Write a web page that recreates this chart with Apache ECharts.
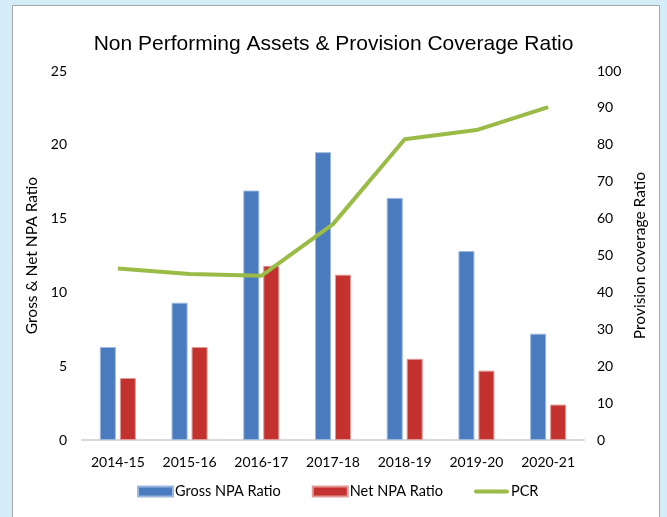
<!DOCTYPE html>
<html>
<head>
<meta charset="utf-8">
<script src="https://cdn.jsdelivr.net/npm/echarts@6/dist/echarts.min.js"></script>
<style>
html,body{margin:0;padding:0;background:#d5ecf9;}
#c{width:667px;height:517px;}
</style>
</head>
<body>
<div id="c"></div>
<script>
const categories = ['2014-15','2015-16','2016-17','2017-18','2018-19','2019-20','2020-21'];
const grossNPA = [6.3, 9.3, 16.9, 19.5, 16.4, 12.8, 7.2];
const netNPA = [4.2, 6.3, 11.8, 11.2, 5.5, 4.7, 2.4];
const pcr = [46.5, 45.0, 44.5, 58.5, 81.5, 84.0, 90.2];

const FONT = 'Lato';
const chart = echarts.init(document.getElementById('c'), null, {renderer:'canvas'});
chart.setOption({
  backgroundColor: '#d5ecf9',
  animation: false,
  graphic: [{
    type: 'rect', z: -10,
    shape: {x: 12.5, y: 5.5, width: 647, height: 530},
    style: {fill: '#ffffff', stroke: '#a6a6a6', lineWidth: 1}
  }],
  title: {
    text: 'Non Performing Assets & Provision Coverage Ratio',
    left: 'center', top: 34, padding: 0,
    textStyle: {fontFamily: 'Liberation Sans', fontSize: 21, fontWeight: 'normal', color: '#000'}
  },
  legend: {
    bottom: 13, left: 132,
    itemWidth: 35, itemHeight: 10, itemGap: 31,
    symbolKeepAspect: true,
    textStyle: {fontFamily: FONT, fontSize: 14.5, color: '#000', padding: [0,0,0,-3]},
    data: [
      {name: 'Gross NPA Ratio', icon: 'rect'},
      {name: 'Net NPA Ratio', icon: 'rect'},
      {name: 'PCR', icon: 'path://M2,0 L38,0 A2,2 0 0 1 38,4.5 L2,4.5 A2,2 0 0 1 2,0 Z'}
    ]
  },
  grid: {left: 82, right: 83, top: 71, bottom: 77},
  xAxis: {
    type: 'category', data: categories,
    axisLine: {lineStyle: {color: '#d9d9d9', width: 2}},
    axisTick: {show: false},
    axisLabel: {fontFamily: FONT, fontSize: 14, color: '#000', margin: 15}
  },
  yAxis: [{
    type: 'value', min: 0, max: 25, interval: 5,
    name: 'Gross & Net NPA Ratio', nameLocation: 'middle', nameGap: 36,
    nameTextStyle: {fontFamily: FONT, fontSize: 15.5, color: '#000'},
    axisLine: {show: false}, axisTick: {show: false}, splitLine: {show: false},
    axisLabel: {fontFamily: FONT, fontSize: 14, color: '#000', margin: 15}
  }, {
    type: 'value', min: 0, max: 100, interval: 10,
    name: 'Provision coverage Ratio', nameLocation: 'middle', nameGap: 48,
    nameTextStyle: {fontFamily: FONT, fontSize: 15.5, color: '#000'},
    axisLine: {show: false}, axisTick: {show: false}, splitLine: {show: false},
    axisLabel: {fontFamily: FONT, fontSize: 14, color: '#000', margin: 13}
  }],
  series: [{
    name: 'Gross NPA Ratio', type: 'bar', data: grossNPA,
    barWidth: 16, barGap: '25%',
    itemStyle: {color: '#4a7bbf', borderColor: '#9db8dd', borderWidth: 1}
  }, {
    name: 'Net NPA Ratio', type: 'bar', data: netNPA,
    barWidth: 16,
    itemStyle: {color: '#c3322f', borderColor: '#e09a98', borderWidth: 1}
  }, {
    name: 'PCR', type: 'line', yAxisIndex: 1, data: pcr,
    symbol: 'none', z: 5,
    lineStyle: {color: '#9bbb47', width: 4},
    itemStyle: {color: '#9bbb47'}
  }]
});
</script>
</body>
</html>
